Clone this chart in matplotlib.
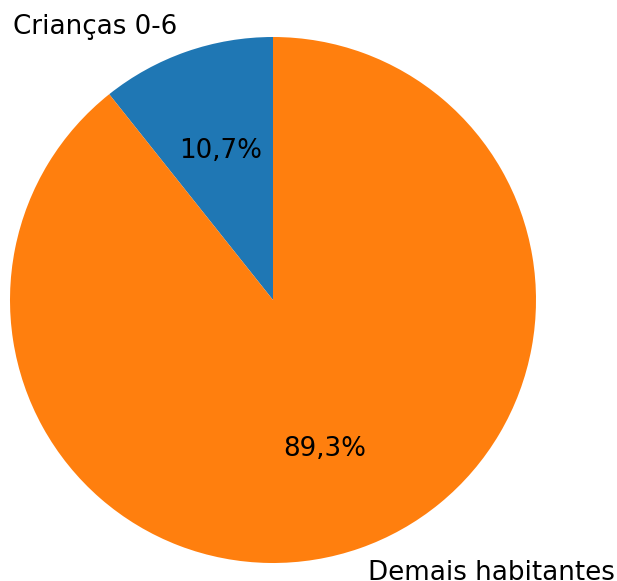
import matplotlib
matplotlib.use("Agg")
import matplotlib.pyplot as plt

labels = ["Crianças 0-6", "Demais habitantes"]
shares = [10.7, 89.3]
colors = ["#1f77b4", "#ff7f0e"]


def pct_fmt(p):
    return f"{p:.1f}%".replace(".", ",")


W, H = 617, 581
R = 263.0          # pie radius in pixels
cx, cy = 273.0, 300.0  # pie centre, pixels from top-left

fig = plt.figure(figsize=(W / 100, H / 100), dpi=100)
side = 2.5 * R
ax = fig.add_axes([(cx - side / 2) / W, (H - cy - side / 2) / H, side / W, side / H])

ax.pie(shares, labels=labels, colors=colors, autopct=pct_fmt, startangle=90,
       textprops={"fontsize": 18.8})
ax.set_xlim(-1.25, 1.25)
ax.set_ylim(-1.25, 1.25)
ax.axis("off")

fig.savefig("out.png", dpi=100)
